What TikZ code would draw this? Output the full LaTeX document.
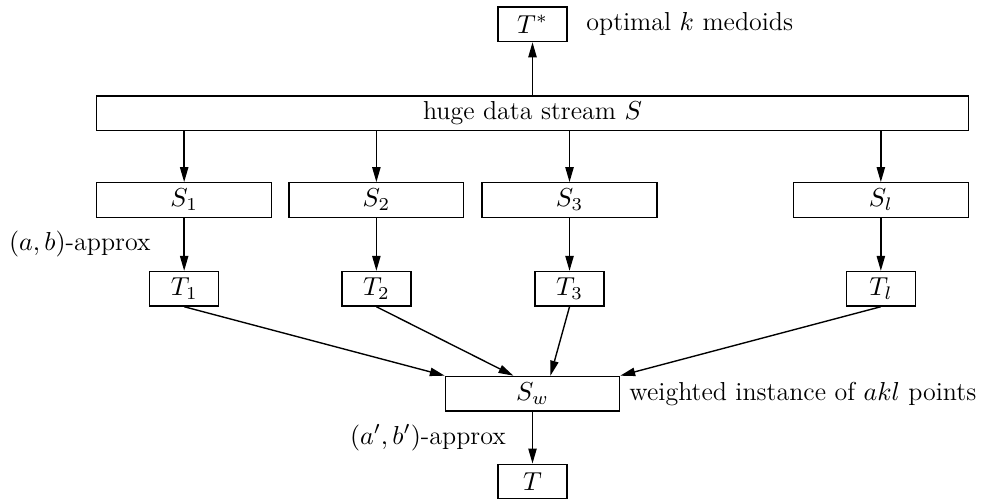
\RequirePackage{fix-cm}
\documentclass[tikz,border=0pt]{standalone}
\usepackage{amsmath}
\usepackage{amssymb}
\usepackage{tikz}
\usetikzlibrary{arrows.meta, positioning}

\begin{document}
\begin{tikzpicture}[
    font=\fontsize{11.3}{13.6}\selectfont,
    box/.style={rectangle, draw, line width=0.6pt, minimum height=15pt, inner sep=2pt},
    sbox/.style={box, minimum width=76pt},
    tbox/.style={box, minimum width=30pt},
    arrow/.style={-{Triangle[length=6.5pt, width=3.6pt]}, line width=0.6pt},
    node distance=23pt
]

% Whole stream
\node[box, minimum width=379pt] (stream) at (0,0) {huge data stream $S$};

% Final answer on top
\node[tbox, above=23pt of stream] (tstar) {$T^*$};
\node[right=4.6pt of tstar] (optlabel) {optimal $k$ medoids};

% Chunks of the stream
\node[sbox, below=22.2pt of stream.south west, anchor=north west] (s1) {$S_1$};
\node[sbox, right=7pt of s1] (s2) {$S_2$};
\node[sbox, right=7.4pt of s2] (s3) {$S_3$};
\node[sbox, below=22.2pt of stream.south east, anchor=north east] (sl) {$S_l$};

% Local solutions
\node[tbox, below=of s1] (t1) {$T_1$};
\node[tbox, below=of s2] (t2) {$T_2$};
\node[tbox, below=of s3] (t3) {$T_3$};
\node[tbox, below=of sl] (tl) {$T_l$};

% Weighted instance and result
\coordinate (mid) at (t1.south -| stream.south);
\node[box, minimum width=75.7pt, below=30pt of mid] (sw) {$S_w$};
\node[right=0.5pt of sw] (swlabel) {weighted instance of $akl$ points};
\node[tbox, below=22.6pt of sw] (t) {$T$};

% Entry points on S_w
\coordinate (in2) at ([xshift=-8.3pt]sw.north);
\coordinate (in3) at ([xshift=7.8pt]sw.north);

% Arrows
\draw[arrow] (stream.north -| tstar) -- (tstar);
\foreach \i in {1,2,3,l} {
    \draw[arrow] (stream.south -| s\i) -- (s\i);
}
\draw[arrow] (s1) -- node[midway, left=11pt] {$(a,b)$-approx} (t1);
\draw[arrow] (s2) -- (t2);
\draw[arrow] (s3) -- (t3);
\draw[arrow] (sl) -- (tl);

% Merging into S_w
\draw[arrow] (t1.south) -- (sw.north west);
\draw[arrow] (t2.south) -- (in2);
\draw[arrow] (t3.south) -- (in3);
\draw[arrow] (tl.south) -- (sw.north east);
\draw[arrow] (sw) -- node[midway, left=8pt] {$(a',b')$-approx} (t);

\useasboundingbox (-231.6pt,-165.7pt) rectangle (196.8pt,49.2pt);

\end{tikzpicture}
\end{document}
